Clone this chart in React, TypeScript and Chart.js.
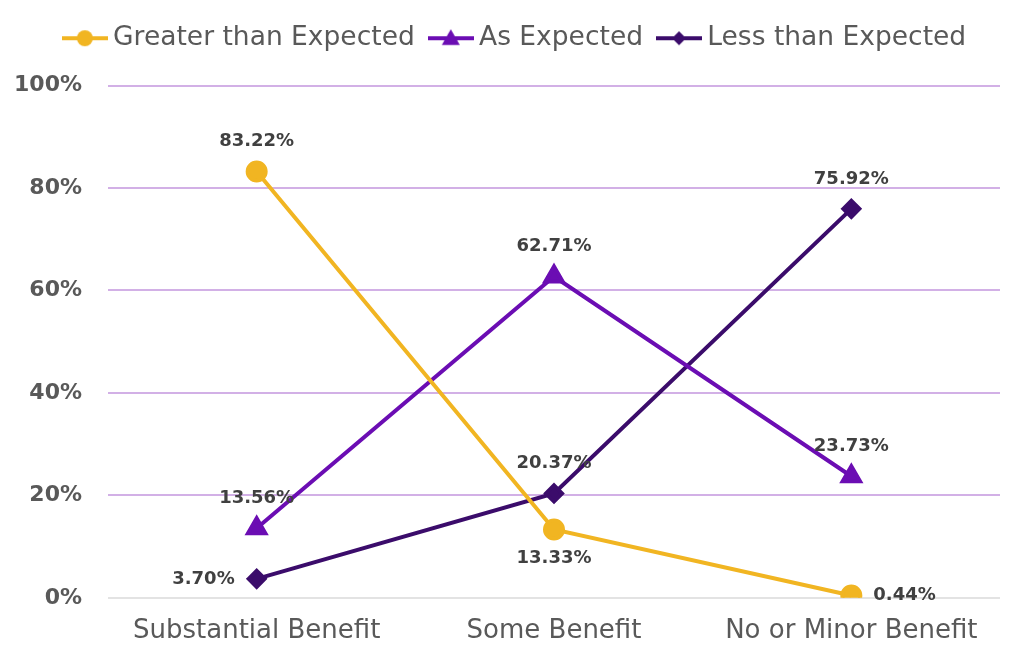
import React, { useEffect, useRef } from "react";
import { Chart, registerables } from "chart.js";

Chart.register(...registerables);

const categories = ["Substantial Benefit", "Some Benefit", "No or Minor Benefit"];
const seriesNames = ["Greater than Expected", "As Expected", "Less than Expected"];
const greaterValues = [83.22, 13.33, 0.44];
const asValues = [13.56, 62.71, 23.73];
const lessValues = [3.7, 20.37, 75.92];
const yTicks = [0, 20, 40, 60, 80, 100];

const colors = ["#F1B522", "#6B0DB3", "#3B0C6B"];
const pointStyles = ["circle", "triangle", "rectRot"];
const pointRadii = [9, 10, 8];
const labelPlacement = [
  ["top", "bottom", "right"],
  ["top", "top", "top"],
  ["left", "top", "top"],
];

const FONT = "'DejaVu Sans', 'Noto Sans', sans-serif";

function makeLegendImage(color: string, style: string, r: number) {
  const c = document.createElement("canvas");
  c.width = 46;
  c.height = 20;
  const ctx = c.getContext("2d")!;
  ctx.strokeStyle = color;
  ctx.lineWidth = 4;
  ctx.beginPath();
  ctx.moveTo(0, 10);
  ctx.lineTo(46, 10);
  ctx.stroke();
  ctx.fillStyle = color;
  ctx.beginPath();
  if (style === "circle") {
    ctx.arc(23, 10, r, 0, Math.PI * 2);
  } else if (style === "triangle") {
    ctx.moveTo(23, 10 - r);
    ctx.lineTo(23 + r, 10 + r * 0.75);
    ctx.lineTo(23 - r, 10 + r * 0.75);
    ctx.closePath();
  } else {
    ctx.moveTo(23, 10 - r);
    ctx.lineTo(23 + r, 10);
    ctx.lineTo(23, 10 + r);
    ctx.lineTo(23 - r, 10);
    ctx.closePath();
  }
  ctx.fill();
  return c;
}

const legendSpacePlugin = {
  id: "legendSpace",
  beforeUpdate(chart: any) {
    const lg = chart.legend;
    if (lg && !lg.__patched) {
      const origFit = lg.fit;
      lg.fit = function () {
        origFit.call(this);
        this.height += 24;
      };
      const origDraw = lg.draw;
      lg.draw = function () {
        const ctx = this.ctx;
        ctx.save();
        ctx.translate(14, 0);
        origDraw.call(this);
        ctx.restore();
      };
      lg.__patched = true;
    }
  },
};

const dataLabelPlugin = {
  id: "dataLabels",
  afterDatasetsDraw(chart: any) {
    const ctx = chart.ctx;
    ctx.save();
    ctx.font = `bold 18px ${FONT}`;
    ctx.fillStyle = "#404040";
    chart.data.datasets.forEach((ds: any, di: number) => {
      const meta = chart.getDatasetMeta(di);
      meta.data.forEach((pt: any, i: number) => {
        const v = ds.data[i];
        const text = v.toFixed(2) + "%";
        const pos = labelPlacement[di][i];
        let x = pt.x;
        let y = pt.y;
        ctx.textBaseline = "middle";
        ctx.textAlign = "center";
        if (pos === "top") {
          y -= 30;
        } else if (pos === "bottom") {
          y += 29;
        } else if (pos === "left") {
          ctx.textAlign = "right";
          x -= 22;
        } else {
          ctx.textAlign = "left";
          x += 22;
        }
        ctx.fillText(text, x, y);
      });
    });
    ctx.restore();
  },
};

const gridColors = yTicks.map((v) => (v === 0 ? "#e3e3e3" : "#d2b0e6"));

export default function App() {
  const ref = useRef<HTMLCanvasElement>(null);
  useEffect(() => {
    const allValues = [greaterValues, asValues, lessValues];
    const chart = new Chart(ref.current!, {
      type: "line",
      data: {
        labels: categories,
        datasets: seriesNames.map((name, i) => ({
          label: name,
          data: allValues[i],
          borderColor: colors[i],
          backgroundColor: colors[i],
          borderWidth: 4,
          pointStyle: pointStyles[i] as any,
          pointRadius: pointRadii[i],
          pointHoverRadius: pointRadii[i],
          tension: 0,
        })),
      },
      options: {
        animation: false,
        responsive: false,
        maintainAspectRatio: false,
        layout: { padding: { left: 8, right: 24, top: 4, bottom: 6 } },
        plugins: {
          tooltip: { enabled: false },
          legend: {
            position: "top",
            labels: {
              usePointStyle: true,
              pointStyleWidth: 30,
              padding: 21,
              color: "#595959",
              font: { family: FONT, size: 26.5 },
              generateLabels: (ch: any) =>
                ch.data.datasets.map((ds: any, i: number) => ({
                  text: ds.label,
                  fillStyle: colors[i],
                  strokeStyle: colors[i],
                  fontColor: "#595959",
                  lineWidth: 0,
                  hidden: false,
                  datasetIndex: i,
                  pointStyle: makeLegendImage(colors[i], pointStyles[i], pointRadii[i] - 1),
                })),
            },
          },
        },
        scales: {
          x: {
            offset: true,
            grid: { display: false },
            border: { display: false },
            ticks: {
              color: "#595959",
              font: { family: FONT, size: 26 },
              padding: 10,
            },
          },
          y: {
            min: 0,
            max: 100,
            afterFit: (s: any) => {
              s.width = 100;
            },
            afterBuildTicks: (s: any) => {
              s.ticks = yTicks.map((v) => ({ value: v }));
            },
            border: { display: false },
            grid: {
              drawTicks: false,
              color: gridColors,
              lineWidth: 2,
            },
            ticks: {
              color: "#595959",
              font: { family: FONT, size: 22, weight: "bold" },
              padding: 26,
              callback: (v: any) => v + "%",
            },
          },
        },
      },
      plugins: [legendSpacePlugin, dataLabelPlugin],
    });
    return () => chart.destroy();
  }, []);
  return (
    <div style={{ position: "absolute", left: 0, top: 0, width: 1024, height: 663, background: "#fff" }}>
      <canvas ref={ref} width={1024} height={663} style={{ width: 1024, height: 663 }} />
    </div>
  );
}
